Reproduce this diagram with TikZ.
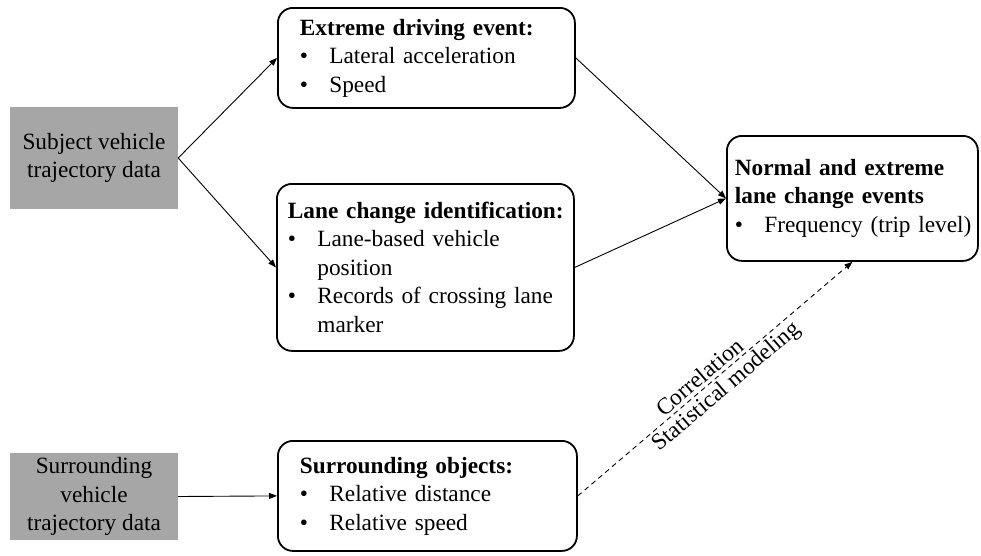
\documentclass[tikz,border=0pt]{standalone}
\usepackage{fontspec}
\setmainfont{Liberation Serif}
\usetikzlibrary{arrows.meta}
\definecolor{datagray}{HTML}{A6A6A6}
% bullet item that never wraps, and an indented continuation line
\newcommand\bulitem[1]{\mbox{\makebox[29.5pt][l]{\textbullet}#1}}
\newcommand\contline[1]{\mbox{\hspace*{29.5pt}#1}}
\begin{document}
\begin{tikzpicture}[x=1pt,y=-1pt,
  font=\fontsize{23.3}{28.5}\selectfont,
  src/.style={fill=datagray, align=center, inner sep=0pt},
  evbox/.style={draw, line width=1.8pt, rounded corners=15pt, align=left,
    anchor=north west, inner ysep=0pt},
  link/.style={line width=0.9pt, -{Triangle[length=8pt,width=6pt]}},
  dlink/.style={link, dash pattern=on 5pt off 4pt}]
\useasboundingbox (0,0) rectangle (981,555);

% data sources
\node[src, minimum width=168pt, minimum height=102pt] (subj) at (94,158)
  {Subject vehicle\\trajectory data};
\node[src, minimum width=168pt, minimum height=87pt] (surrsrc) at (94,496.5)
  {Surrounding\\vehicle\\trajectory data};

% processing boxes
\node[evbox, inner xsep=22pt, text width=253pt, minimum height=100pt] (ext) at (277,7)
  {\mbox{\textbf{Extreme driving event:}}\\
   \bulitem{Lateral acceleration}\\
   \bulitem{Speed}};
\node[evbox, inner xsep=11pt, text width=275pt, minimum height=167pt] (lane) at (276,183)
  {\mbox{\textbf{Lane change identification:}}\\
   \bulitem{Lane-based vehicle}\\
   \contline{position}\\
   \bulitem{Records of crossing lane}\\
   \contline{marker}};
\node[evbox, inner xsep=22pt, text width=255pt, minimum height=110pt] (surr) at (277,440)
  {\mbox{\textbf{Surrounding objects:}}\\
   \bulitem{Relative distance}\\
   \bulitem{Relative speed}};
\node[evbox, inner xsep=8pt, text width=235pt, minimum height=125pt] (norm) at (726,135)
  {\mbox{\textbf{Normal and extreme}}\\
   \mbox{\textbf{lane change events}}\\
   \bulitem{Frequency (trip level)}};

% connectors
\draw[link] (subj.east) -- (ext.west);
\draw[link] (subj.east) -- (lane.west);
\draw[link] (surrsrc.east) -- (surr.west);
\draw[link] (ext.east) -- (norm.west);
\draw[link] (lane.east) -- (norm.west);
\draw[dlink] (surr.east) -- (norm.south)
  node[pos=0.47, sloped, above, inner sep=3pt] (corr) {Correlation}
  node[pos=0.51, sloped, below, inner sep=3pt] (stat) {Statistical modeling};
\end{tikzpicture}
\end{document}
